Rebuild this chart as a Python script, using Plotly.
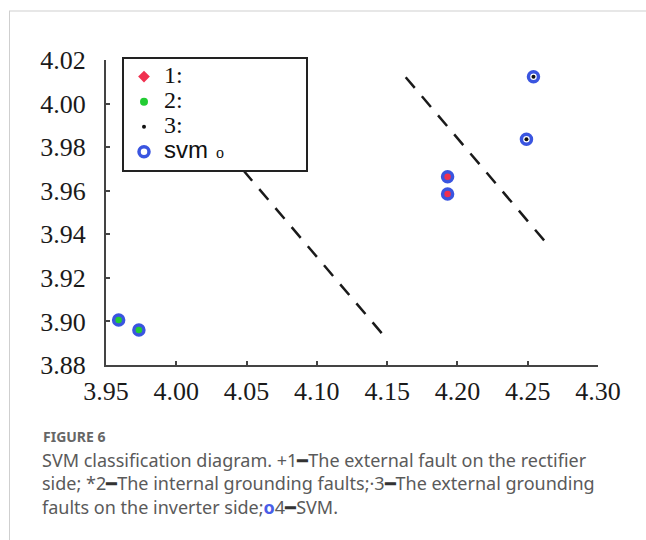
import plotly.graph_objects as go

# ---- data ----
x_ticks = [3.95, 4.00, 4.05, 4.10, 4.15, 4.20, 4.25, 4.30]
x_tick_text = ["3.95", "4.00", "4.05", "4.10", "4.15", "4.20", "4.25", "4.30"]
y_ticks = [3.88, 3.90, 3.92, 3.94, 3.96, 3.98, 4.00, 4.02]
y_tick_text = ["3.88", "3.90", "3.92", "3.94", "3.96", "3.98", "4.00", "4.02"]

class1_x = [4.193, 4.193]
class1_y = [3.9664, 3.9585]
class2_x = [3.959, 3.9734]
class2_y = [3.9007, 3.8961]
class3_x = [4.2541, 4.2491]
class3_y = [4.0123, 3.9836]
svm_x = class1_x + class2_x + class3_x
svm_y = class1_y + class2_y + class3_y

boundary1_x = [4.0475, 4.148]
boundary1_y = [3.9695, 3.8932]
boundary2_x = [4.1632, 4.2644]
boundary2_y = [4.0121, 3.9351]

fig = go.Figure()

dash_style = dict(color="#1a1a1a", width=2.5, dash="14px,11px")
fig.add_trace(go.Scatter(x=boundary1_x, y=boundary1_y, mode="lines",
                         line=dash_style, showlegend=False, hoverinfo="skip"))
fig.add_trace(go.Scatter(x=boundary2_x, y=boundary2_y, mode="lines",
                         line=dash_style, showlegend=False, hoverinfo="skip"))

big = "font-family:'Liberation Serif';font-size:24px"
fig.add_trace(go.Scatter(x=class1_x, y=class1_y, mode="markers",
                         name=f"<span style=\"{big}\">1:</span>",
                         marker=dict(symbol="diamond", size=9, color="#f0304f")))
fig.add_trace(go.Scatter(x=class2_x, y=class2_y, mode="markers",
                         name=f"<span style=\"{big}\">2:</span>",
                         marker=dict(symbol="circle", size=8, color="#22cc33")))
fig.add_trace(go.Scatter(x=class3_x, y=class3_y, mode="markers",
                         name=f"<span style=\"{big}\">3:</span>",
                         marker=dict(symbol="circle", size=4, color="#111111")))
fig.add_trace(go.Scatter(x=svm_x, y=svm_y, mode="markers",
                         name="<span style=\"font-family:'Liberation Sans';font-size:24px\">svm</span>"
                              "<span style=\"font-size:16px\">\u00a0\u00a0o</span>"
                              + "\u00a0" * 18,
                         marker=dict(symbol="circle-open", size=10, color="#3a55e0",
                                     line=dict(width=3.5, color="#3a55e0"))))

axis_common = dict(showgrid=False, zeroline=False, showline=True, linecolor="#444444",
                   linewidth=2, ticks="inside", ticklen=4, tickwidth=1.5, tickcolor="#444444",
                   tickfont=dict(family="Liberation Serif", size=26, color="#1a1a1a"),
                   mirror=False)

fig.update_xaxes(range=[3.95, 4.30], tickvals=x_ticks, ticktext=x_tick_text,
                 ticklabelstandoff=2, **axis_common)
fig.update_yaxes(range=[3.88, 4.02], tickvals=y_ticks, ticktext=y_tick_text,
                 ticklabelstandoff=13, **axis_common)

# paper coordinate helpers (plot area: x 106..598, y 60..365 px)
L, R, T, B = 106, 48, 60, 175
W, H = 646, 540
pw, ph = W - L - R, H - T - B
def px(xp):
    return (xp - L) / pw
def py(yp):
    return (H - B - yp) / ph

# figure frame lines
fig.add_shape(type="line", xref="paper", yref="paper", x0=px(9), x1=px(646), y0=py(11), y1=py(11),
              line=dict(color="#cfcfcf", width=1))
fig.add_shape(type="line", xref="paper", yref="paper", x0=px(9.5), x1=px(9.5), y0=py(11), y1=py(540),
              line=dict(color="#cfcfcf", width=1))

fig.add_annotation(xref="paper", yref="paper", x=px(41), y=py(425), xanchor="left", yanchor="top",
                   text="<b>FIGURE 6</b>", showarrow=False, align="left",
                   font=dict(family="Noto Sans", size=14, color="#666666"))
caption = ("SVM classification diagram. +1<span style='color:#333'>━</span>The external fault on the rectifier<br>"
           "side; *2<span style='color:#333'>━</span>The internal grounding faults;·3<span style='color:#333'>━</span>The external grounding<br>"
           "faults on the inverter side;<span style='color:#4a5ee8'><b>o</b></span>4<span style='color:#333'>━</span>SVM.")
fig.add_annotation(xref="paper", yref="paper", x=px(40), y=py(446), xanchor="left", yanchor="top",
                   text=caption, showarrow=False, align="left",
                   font=dict(family="Noto Sans", size=18, color="#5a5a5a"))

fig.update_layout(
    width=W, height=H,
    margin=dict(l=L, r=R, t=T, b=B),
    paper_bgcolor="white", plot_bgcolor="white",
    legend=dict(x=px(122), y=py(57), xanchor="left", yanchor="top",
                bordercolor="#222222", borderwidth=2, bgcolor="white",
                font=dict(family="Liberation Serif", size=17, color="#111111"),
                tracegroupgap=0, itemsizing="trace"),
    showlegend=True,
)

fig.write_html("out.html", config={"displayModeBar": False},
               post_script="document.body.style.margin='0px';document.body.style.padding='0px';")
